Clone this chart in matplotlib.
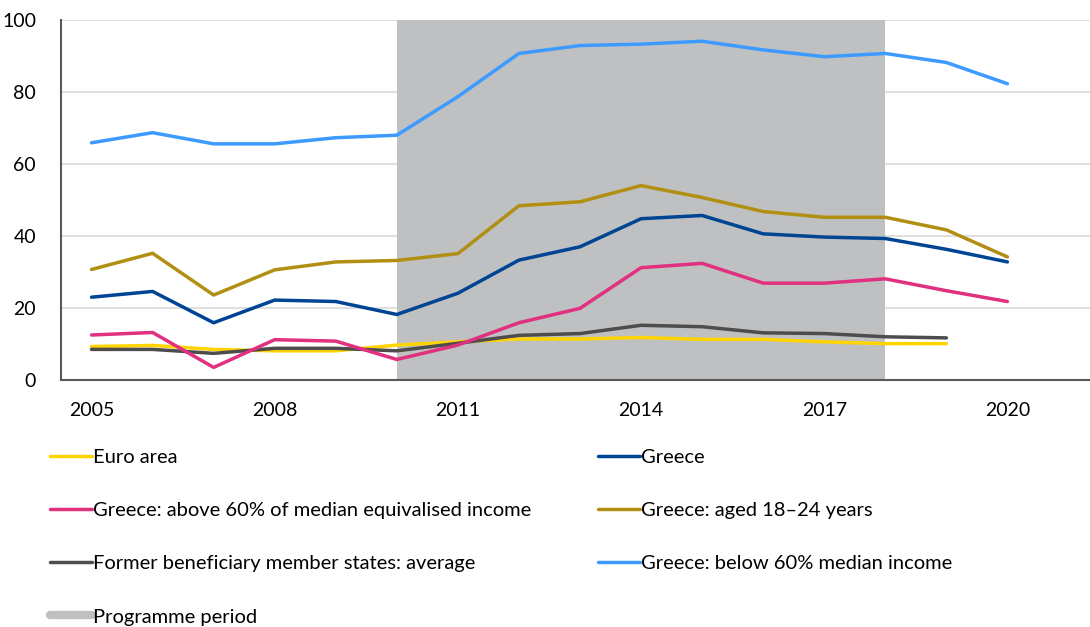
import matplotlib
matplotlib.use("Agg")
import matplotlib.pyplot as plt
from matplotlib.lines import Line2D

plt.rcParams['font.family'] = ['Lato', 'DejaVu Sans']

years = list(range(2005, 2021))
years_short = list(range(2005, 2020))

euro_area = [9.3, 9.6, 8.5, 8.1, 8.1, 9.7, 10.6, 11.4, 11.4, 11.8, 11.3, 11.3, 10.6, 10.1, 10.1]
former_beneficiary = [8.5, 8.5, 7.4, 8.8, 8.8, 8.1, 10.2, 12.4, 12.9, 15.2, 14.8, 13.1, 12.9, 12.0, 11.7]
greece = [23.0, 24.6, 15.9, 22.2, 21.8, 18.2, 24.1, 33.3, 37.0, 44.8, 45.7, 40.6, 39.7, 39.3, 36.3, 32.8]
greece_above60 = [12.5, 13.2, 3.5, 11.2, 10.8, 5.7, 9.7, 15.9, 19.9, 31.2, 32.4, 26.9, 26.9, 28.1, 24.8, 21.8]
greece_18_24 = [30.7, 35.2, 23.6, 30.6, 32.8, 33.2, 35.1, 48.4, 49.5, 54.0, 50.7, 46.8, 45.2, 45.2, 41.7, 34.2]
greece_below60 = [65.9, 68.7, 65.6, 65.6, 67.3, 68.0, 78.7, 90.7, 92.9, 93.3, 94.1, 91.7, 89.8, 90.7, 88.2, 82.3]

programme_start, programme_end = 2010, 2018
x_ticks = [2005, 2008, 2011, 2014, 2017, 2020]
y_ticks = [0, 20, 40, 60, 80, 100]

c_euro = '#FFD400'
c_greece = '#004494'
c_above = '#E0307F'
c_aged = '#B08F12'
c_former = '#4D4D4D'
c_below = '#3D9BFF'
c_prog = '#BFC0C2'

fig = plt.figure(figsize=(10.9, 6.27), dpi=100)
ax = fig.add_axes([61 / 1090, 1 - 380 / 627, 1038 / 1090, 360 / 627])

ax.set_xlim(2004.5, 2021.5)
ax.set_ylim(0, 100)

for yv in y_ticks[1:]:
    ax.axhline(yv, color='#D9D9D9', lw=1.2, zorder=0)
ax.axvspan(programme_start, programme_end, color=c_prog, lw=0, zorder=1)

lw = 2.5
ax.plot(years_short, euro_area, color=c_euro, lw=lw, zorder=3, solid_capstyle='round')
ax.plot(years_short, former_beneficiary, color=c_former, lw=lw, zorder=3, solid_capstyle='round')
ax.plot(years, greece_above60, color=c_above, lw=lw, zorder=3, solid_capstyle='round')
ax.plot(years, greece, color=c_greece, lw=lw, zorder=3, solid_capstyle='round')
ax.plot(years, greece_18_24, color=c_aged, lw=lw, zorder=3, solid_capstyle='round')
ax.plot(years, greece_below60, color=c_below, lw=lw, zorder=3, solid_capstyle='round')

for s in ['top', 'right']:
    ax.spines[s].set_visible(False)
for s in ['left', 'bottom']:
    ax.spines[s].set_color('#595959')
    ax.spines[s].set_linewidth(1.5)
    ax.spines[s].set_zorder(4)

ax.set_xticks(x_ticks)
ax.set_yticks(y_ticks)
ax.tick_params(axis='both', length=0, labelsize=14, colors='black')
ax.tick_params(axis='x', pad=16)
ax.tick_params(axis='y', pad=18)

def handle(color, width=lw):
    return Line2D([0], [0], color=color, lw=width, solid_capstyle='round')

left_items = [
    (handle(c_euro), 'Euro area'),
    (handle(c_above), 'Greece: above 60% of median equivalised income'),
    (handle(c_former), 'Former beneficiary member states: average'),
    (handle(c_prog, 6), 'Programme period'),
]
right_items = [
    (handle(c_greece), 'Greece'),
    (handle(c_aged), 'Greece: aged 18\u201324 years'),
    (handle(c_below), 'Greece: below 60% median income'),
]

common = dict(frameon=False, fontsize=14.5, handlelength=2.1, handletextpad=0.05,
              labelspacing=1.79, borderpad=0, borderaxespad=0, loc='upper left')
leg1 = fig.legend([h for h, _ in left_items], [t for _, t in left_items],
                  bbox_to_anchor=(50 / 1090, 1 - 449 / 627), **common)
leg2 = fig.legend([h for h, _ in right_items], [t for _, t in right_items],
                  bbox_to_anchor=(598 / 1090, 1 - 449 / 627), **common)

fig.savefig('out.png', dpi=100)
